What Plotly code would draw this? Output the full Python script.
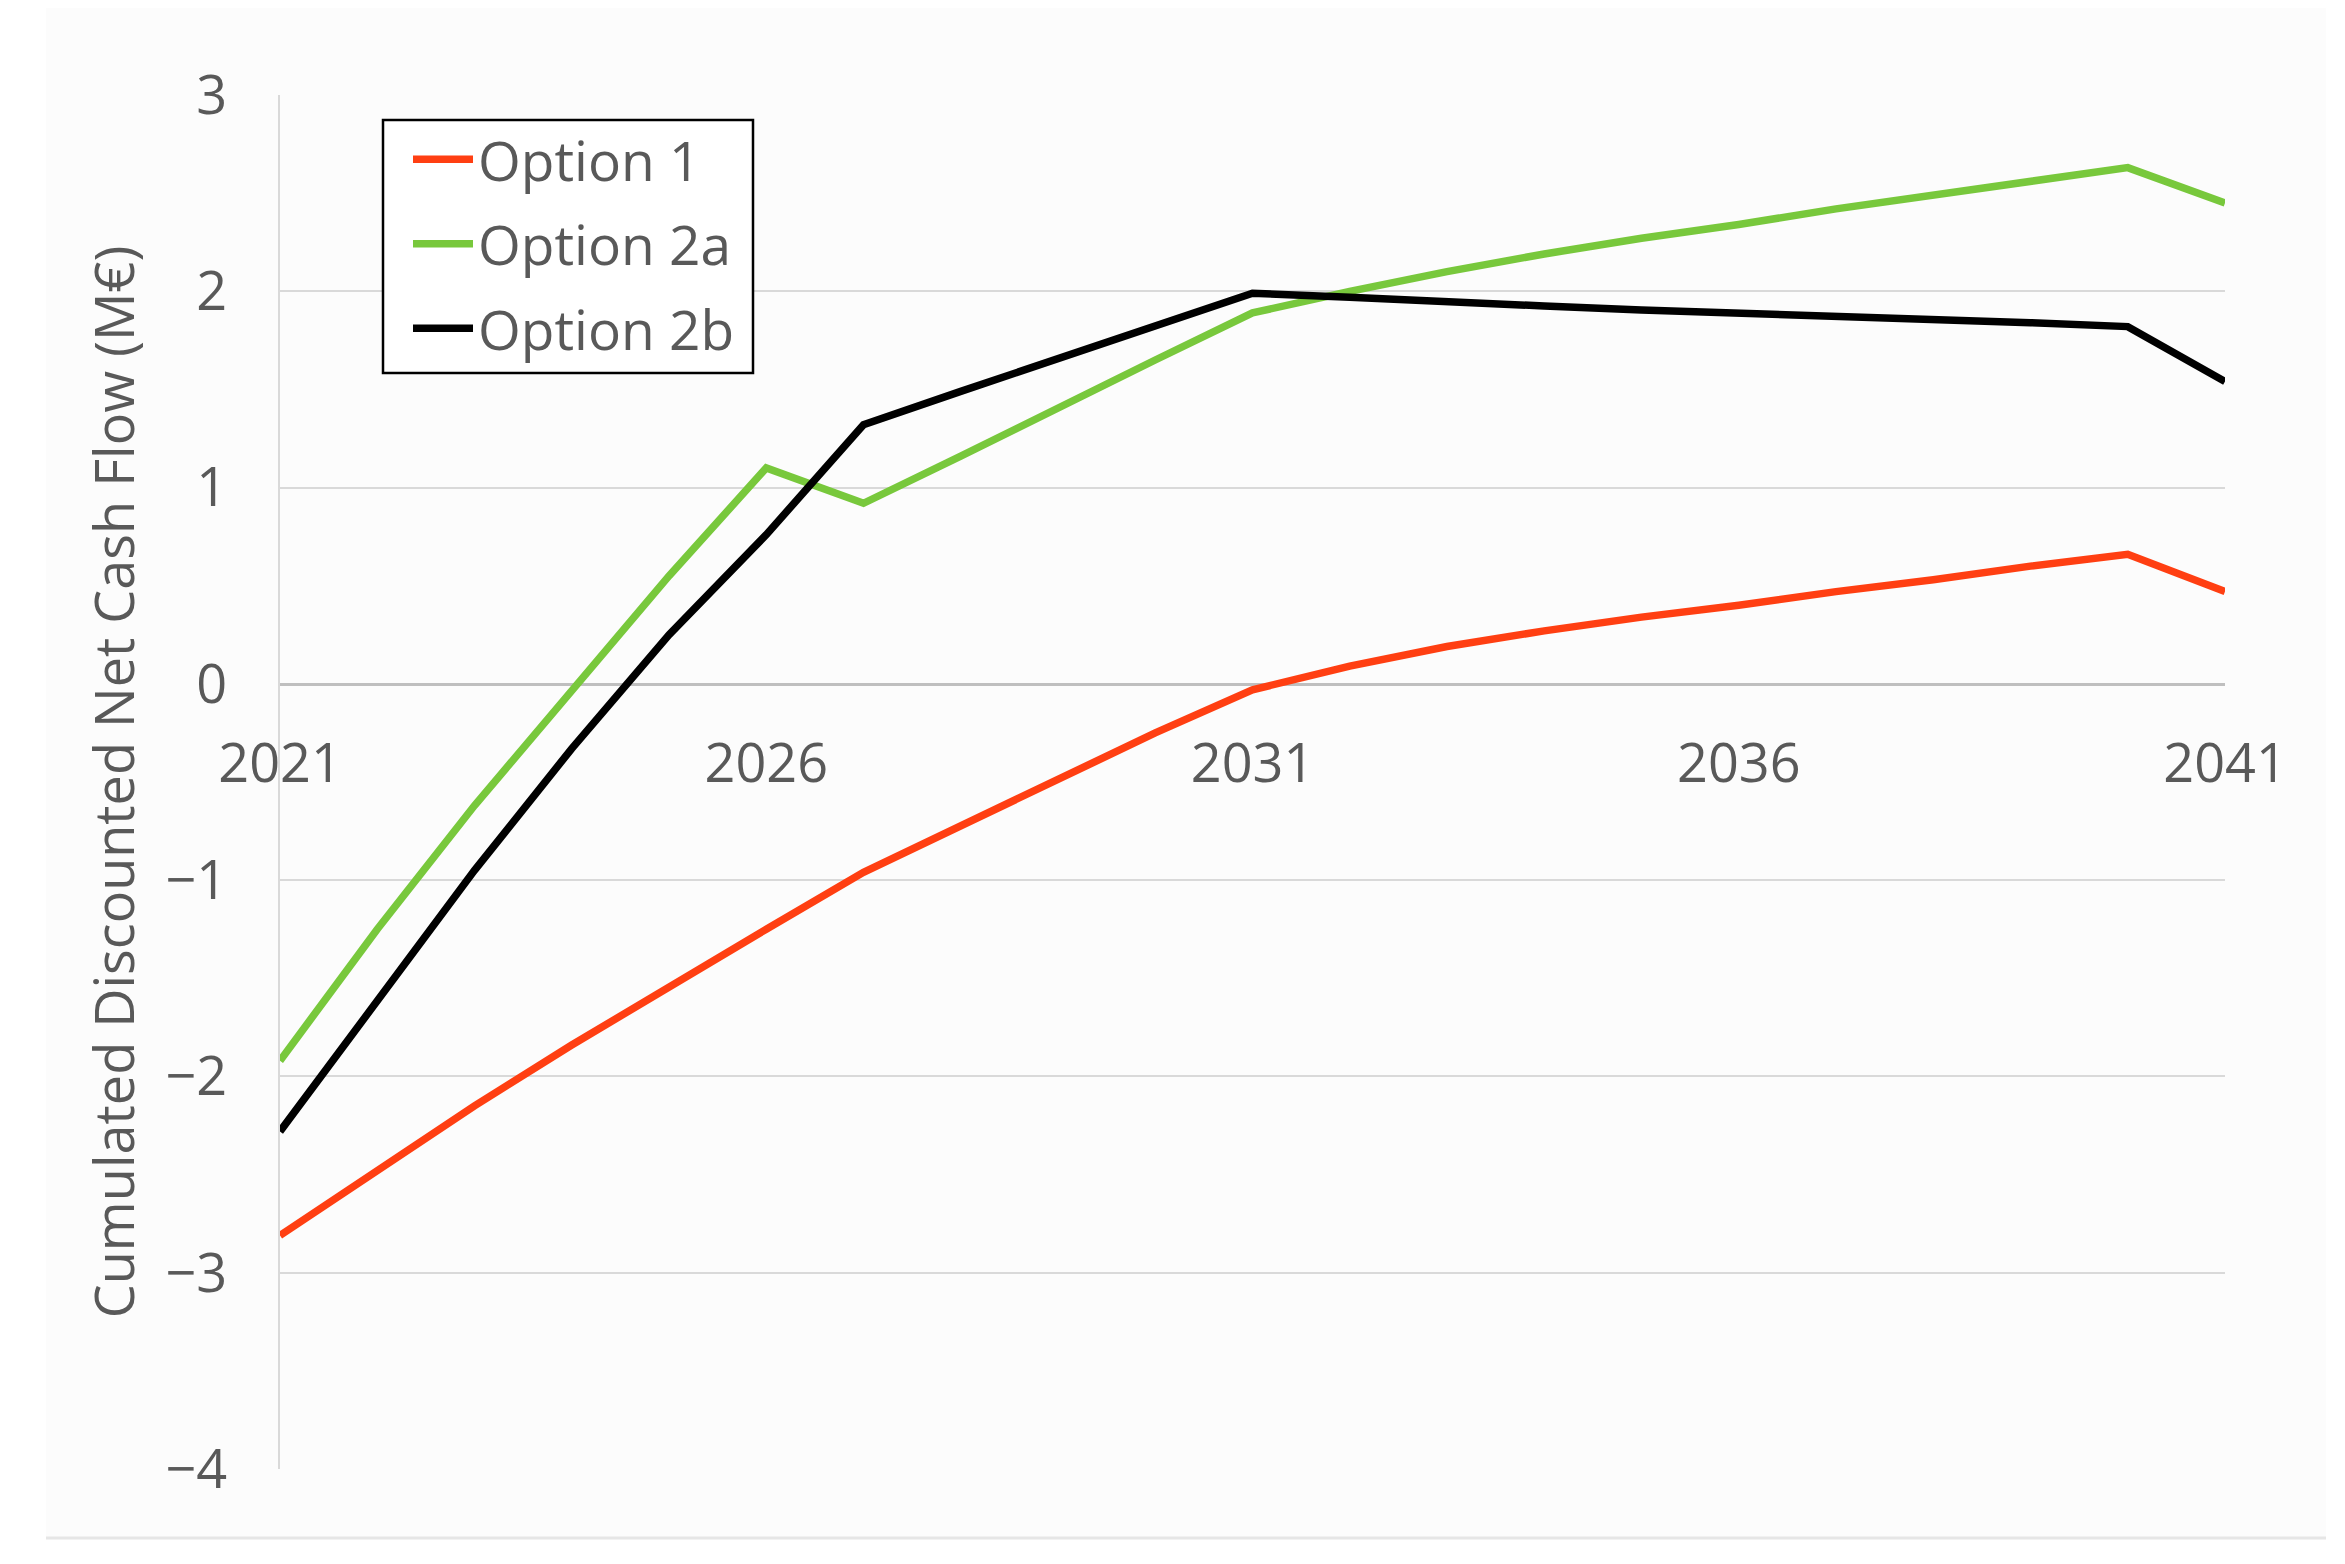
import plotly.graph_objects as go

# ---- data ----
years = [2021, 2022, 2023, 2024, 2025, 2026, 2027, 2028, 2029, 2030, 2031,
         2032, 2033, 2034, 2035, 2036, 2037, 2038, 2039, 2040, 2041]

opt1_vals = [-2.81, -2.48, -2.15, -1.84, -1.54, -1.25, -0.96, -0.72, -0.48, -0.25, -0.03,
             0.09, 0.19, 0.27, 0.34, 0.40, 0.47, 0.53, 0.60, 0.66, 0.47]

opt2a_vals = [-1.92, -1.25, -0.62, -0.03, 0.55, 1.10, 0.92, 1.16, 1.41, 1.65, 1.89,
              2.00, 2.10, 2.19, 2.27, 2.34, 2.42, 2.49, 2.56, 2.63, 2.45]

opt2b_vals = [-2.28, -1.61, -0.95, -0.33, 0.25, 0.76, 1.32, 1.49, 1.66, 1.82, 1.99,
              1.97, 1.945, 1.925, 1.905, 1.89, 1.87, 1.855, 1.84, 1.82, 1.54]

series_names = ["Option 1", "Option 2a", "Option 2b"]
series_colors = ["#FF3F12", "#78C83C", "#000000"]

x_ticks = [2021, 2026, 2031, 2036, 2041]
y_ticks = [-4, -3, -2, -1, 0, 1, 2, 3]
y_title = "Cumulated Discounted Net Cash Flow (M€)"

FONT = "Open Sans"
TXT = "#595959"

fig = go.Figure()
for name, color, ys in zip(series_names, series_colors, [opt1_vals, opt2a_vals, opt2b_vals]):
    fig.add_trace(go.Scatter(x=years, y=ys, mode="lines", name=name, legendgroup=name,
                             line=dict(color=color, width=7.5)))

W, H = 2345, 1564
L, R, T, B = 272, 128, 87, 103
PW, PH = W - L - R, H - T - B
ymin, ymax = -4, 3
zero_pos = (0 - ymin) / (ymax - ymin)


def px_x(x):
    return (x - L) / PW


def px_y(y):
    return (H - B - y) / PH


fig.update_layout(
    width=W, height=H,
    margin=dict(l=L, r=R, t=T, b=B, autoexpand=False),
    paper_bgcolor="#FFFFFF",
    plot_bgcolor="rgba(0,0,0,0)",
    font=dict(family=FONT, color=TXT, size=54),
    showlegend=True,
    legend=dict(
        x=px_x(400), y=px_y(109),
        xanchor="left", yanchor="top",
        bgcolor="rgba(0,0,0,0)", borderwidth=0,
        font=dict(family=FONT, size=55, color=TXT),
        itemwidth=60, tracegroupgap=10,
    ),
    xaxis=dict(
        range=[2021, 2041], tickvals=x_ticks, ticktext=[str(v) for v in x_ticks],
        showgrid=False, zeroline=False,
        showline=True, linecolor="#BFBFBF", linewidth=2.5,
        anchor="free", position=zero_pos,
        ticks="outside", ticklen=32, tickcolor="rgba(0,0,0,0)",
        tickfont=dict(family=FONT, size=54, color=TXT),
        layer="below traces",
    ),
    yaxis=dict(
        range=[ymin, ymax], tickvals=y_ticks,
        showgrid=True, gridcolor="#D9D9D9", gridwidth=2,
        zeroline=False,
        showline=True, linecolor="#D9D9D9", linewidth=2,
        ticks="outside", ticklen=40, tickcolor="rgba(0,0,0,0)",
        tickfont=dict(family=FONT, size=54, color=TXT),
        title=dict(text=y_title, font=dict(family=FONT, size=54, color=TXT), standoff=14),
        layer="below traces",
    ),
    shapes=[
        dict(type="rect", xref="paper", yref="paper",
             x0=px_x(38), x1=px_x(2318), y0=px_y(1530), y1=1.2,
             fillcolor="#FCFCFC", line=dict(width=0), layer="below"),
        dict(type="line", xref="paper", yref="paper",
             x0=px_x(38), x1=px_x(2318), y0=px_y(1530), y1=px_y(1530),
             line=dict(color="#E6E6E6", width=3), layer="below"),
        # legend frame
        dict(type="rect", xref="paper", yref="paper",
             x0=px_x(375), x1=px_x(745), y0=px_y(365), y1=px_y(112),
             fillcolor="#FFFFFF", line=dict(color="#000000", width=2.5), layer="above"),
    ],
)

fig.write_html("out.html")
